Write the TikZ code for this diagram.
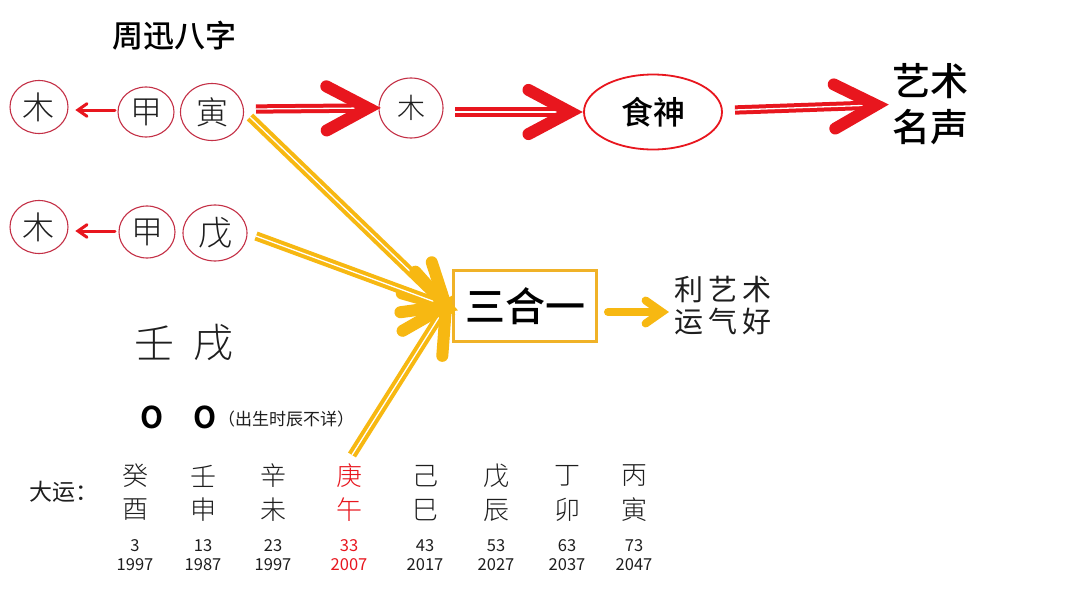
\documentclass[tikz,border=0pt]{standalone}
\usepackage{fontspec}
\usetikzlibrary{calc,shapes.geometric}
\newfontfamily\cjk{Noto Sans CJK SC}
\newfontfamily\cjkl{Noto Sans CJK SC Light}
\newfontfamily\cjkb{Noto Sans CJK SC Bold}
\newfontfamily\cjkm{Noto Sans CJK SC Medium}
\definecolor{ared}{RGB}{232,22,30}
\definecolor{cred}{RGB}{196,48,70}
\definecolor{ayel}{RGB}{247,184,18}
\definecolor{boxy}{RGB}{240,178,40}
\definecolor{txt}{RGB}{30,30,30}
\newcommand\bigarrow[5]{%
  \draw[#1, line width=4pt, double=white, double distance=1.3pt] (#2) -- ($(#3)!9pt!(#2)$);
  \draw[#1, line width=#5, line cap=round, line join=miter] ($(#3)!#4!28:(#2)$) -- (#3) -- ($(#3)!#4!-28:(#2)$);
}
\newcommand\chev[5]{%
  \draw[#1, line width=#5, line cap=round] (#2) -- ($(#3)!2pt!(#2)$);
  \draw[#1, line width=#5, line cap=round, line join=miter] ($(#3)!#4!35:(#2)$) -- (#3) -- ($(#3)!#4!-35:(#2)$);
}
\tikzset{
  circ/.style={ellipse, draw=cred, line width=1.1pt, inner sep=0pt, text=txt, font=\cjkl\fontsize{32}{32}\selectfont},
  gz/.style={text=txt, font=\cjkl\fontsize{26}{28}\selectfont, inner sep=0pt},
  num/.style={text=txt, font=\cjk\fontsize{16.5}{19}\selectfont, inner sep=0pt, align=center},
}
\begin{document}
\begin{tikzpicture}[x=1pt,y=-1pt]
\fill[white] (0,0) rectangle (1080,608);
\useasboundingbox (0,0) rectangle (1080,608);

% title
\node[font=\cjkm\fontsize{31}{31}\selectfont, text=black] (title) at (174,36) {周迅八字};

% row 1
\node[circ, minimum width=58pt, minimum height=53pt] (m1) at (39,107) {木};
\node[circ, minimum width=56pt, minimum height=50pt] (j1) at (146,112) {甲};
\node[circ, minimum width=63pt, minimum height=57pt] (y1) at (212,112) {寅};
\node[circ, minimum width=64pt, minimum height=60pt, font=\cjkl\fontsize{28}{28}\selectfont] (m3) at (411,108) {木};
\node[ellipse, draw=ared, line width=1.8pt, minimum width=138pt, minimum height=75pt, inner sep=0pt,
      font=\cjkm\fontsize{32}{32}\selectfont] (ss) at (653,112) {食神};
\node[font=\cjkm\fontsize{38}{46}\selectfont, align=center, text=black] (ys) at (930,104) {艺术\\名声};

% row 2
\node[circ, minimum width=58pt, minimum height=53pt] (m2) at (39,227) {木};
\node[circ, minimum width=56pt, minimum height=52pt] (j2) at (147,232) {甲};
\node[circ, minimum width=64pt, minimum height=56pt, font=\cjkl\fontsize{34}{34}\selectfont] (w2) at (215,233) {戊};

% box
\node[draw=boxy, line width=2.6pt, minimum width=143pt, minimum height=71pt, inner sep=0pt,
      font=\cjkm\fontsize{40}{40}\selectfont, text=black] (shy) at (525,306) {三合一};
\node[font=\cjk\fontsize{29}{32}\selectfont, align=center, text=txt] (lys) at (723,306) {利\,艺\,术\\运\,气\,好};

% small red arrows
\coordinate (a1s) at (115,110);
\coordinate (a1e) at (78,110);
\coordinate (a2s) at (115,231);
\coordinate (a2e) at (78,231);
\chev{ared}{a1s}{a1e}{11pt}{3pt}
\chev{ared}{a2s}{a2e}{11pt}{3pt}

% big red arrows
\coordinate (r1s) at (256,109);
\coordinate (r1e) at (368,108);
\coordinate (r2s) at (455,112);
\coordinate (r2e) at (570,112);
\coordinate (r3s) at (735,110);
\coordinate (r3e) at (876,105);
\bigarrow{ared}{r1s}{r1e}{47pt}{12pt}
\bigarrow{ared}{r2s}{r2e}{47pt}{12pt}
\bigarrow{ared}{r3s}{r3e}{47pt}{12pt}

% yellow arrows
\coordinate (tip) at (446,306);
\coordinate (ya) at (250,117);
\coordinate (yb) at (256,236);
\coordinate (yc) at (352,455);
\bigarrow{ayel}{ya}{tip}{46pt}{12pt}
\bigarrow{ayel}{yb}{tip}{46pt}{12pt}
\bigarrow{ayel}{yc}{tip}{50pt}{12pt}

\coordinate (ys1) at (608,312);
\coordinate (ye1) at (662,312);
\chev{ayel}{ys1}{ye1}{20pt}{8pt}

% year pillars
\node[text=txt, font=\cjkl\fontsize{40}{40}\selectfont, inner sep=0pt] (ren) at (154,343) {壬};
\node[text=txt, font=\cjkl\fontsize{40}{40}\selectfont, inner sep=0pt] (xu) at (213,343) {戌};
\node[text=black, font=\cjkb\fontsize{30}{30}\selectfont, inner sep=0pt] (o1) at (152,417) {O};
\node[text=black, font=\cjkb\fontsize{30}{30}\selectfont, inner sep=0pt] (o2) at (205,417) {O};
\node[text=txt, font=\cjk\fontsize{17}{17}\selectfont, inner sep=0pt, anchor=west] (cs) at (218,419) {（出生时辰不详）};

% da yun
\node[text=txt, font=\cjk\fontsize{23}{23}\selectfont, inner sep=0pt] (dy) at (64,492) {大运：};
\foreach \x/\a/\b/\c/\d/\col [count=\i] in {
  135/癸/酉/3/1997/txt, 203/壬/申/13/1987/txt, 273/辛/未/23/1997/txt, 349/庚/午/33/2007/ared,
  425/己/巳/43/2017/txt, 496/戊/辰/53/2027/txt, 567/丁/卯/63/2037/txt, 634/丙/寅/73/2047/txt}{
  \node[gz, text=\col] (g\i) at (\x,476) {\a};
  \node[gz, text=\col] (z\i) at (\x,510) {\b};
  \node[num, text=\col] (n\i) at (\x,555) {\c\\\d};
}
\end{tikzpicture}
\end{document}
